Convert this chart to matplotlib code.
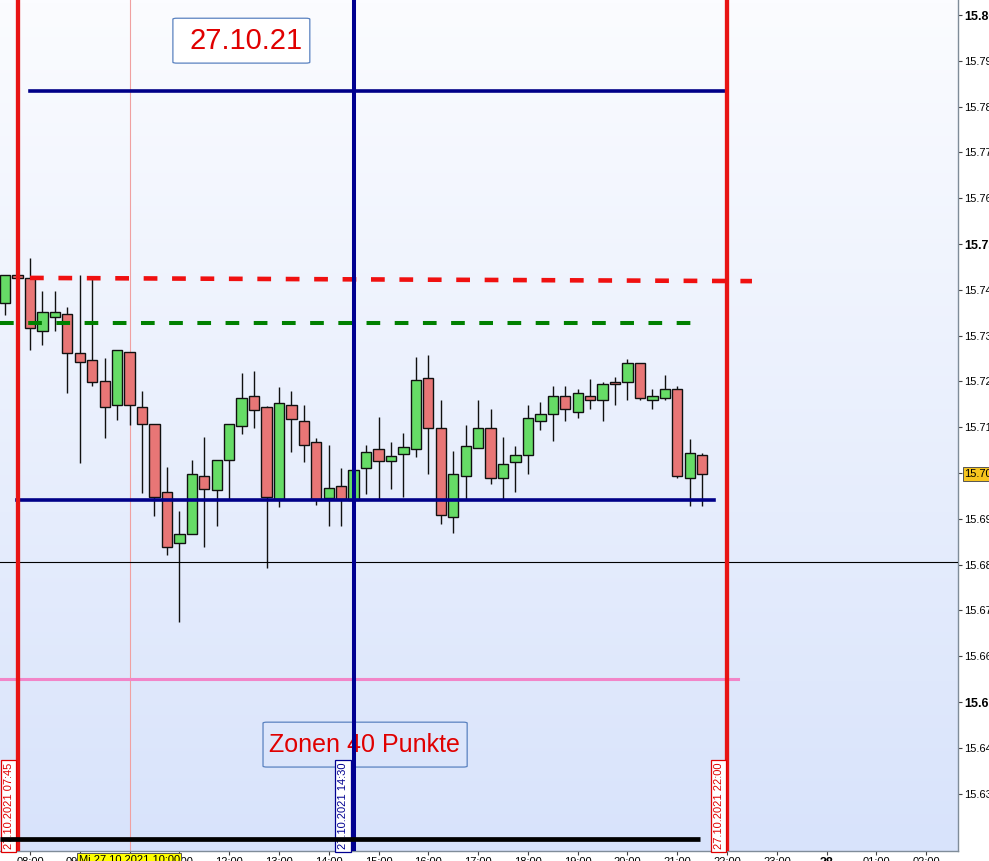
import numpy as np
import matplotlib
matplotlib.use("Agg")
import matplotlib.pyplot as plt
from matplotlib.colors import LinearSegmentedColormap
from matplotlib.patches import FancyBboxPatch
from matplotlib.transforms import blended_transform_factory

plt.rcParams['font.family'] = ['Liberation Sans', 'DejaVu Sans']

# 15 minute candles, 27.10.2021 from 07:30 on
start_hour = 7.5
step = 0.25
opens = [15.7371, 15.7432, 15.7426, 15.7310, 15.7341, 15.7347, 15.7262, 15.7247, 15.7201, 15.7148,
         15.7264, 15.7144, 15.7107, 15.6959, 15.6847, 15.6867, 15.6993, 15.6963, 15.7028, 15.7103,
         15.7168, 15.7144, 15.6943, 15.7148, 15.7114, 15.7068, 15.6945, 15.6972, 15.6941, 15.7011,
         15.7052, 15.7026, 15.7041, 15.7052, 15.7207, 15.7098, 15.6904, 15.6993, 15.7055, 15.7098,
         15.6989, 15.7024, 15.7039, 15.7114, 15.7129, 15.7168, 15.7133, 15.7168, 15.7159, 15.7199,
         15.7199, 15.7240, 15.7159, 15.7164, 15.7183, 15.6989, 15.7039]
highs = [15.7432, 15.7434, 15.7469, 15.7397, 15.7397, 15.7362, 15.7432, 15.7424, 15.7251, 15.7269,
         15.7264, 15.7179, 15.7107, 15.7013, 15.6917, 15.7028, 15.7079, 15.7028, 15.7107, 15.7218,
         15.7223, 15.7146, 15.7188, 15.7179, 15.7148, 15.7076, 15.7061, 15.7011, 15.7007, 15.7061,
         15.7122, 15.7068, 15.7087, 15.7253, 15.7258, 15.7159, 15.7048, 15.7105, 15.7159, 15.7140,
         15.7079, 15.7059, 15.7148, 15.7155, 15.7190, 15.7190, 15.7183, 15.7205, 15.7199, 15.7210,
         15.7249, 15.7240, 15.7183, 15.7214, 15.7190, 15.7074, 15.7044]
lows = [15.7345, 15.7424, 15.7269, 15.7279, 15.7310, 15.7175, 15.7022, 15.7190, 15.7076, 15.7116,
        15.7105, 15.6956, 15.6906, 15.6821, 15.6675, 15.6867, 15.6838, 15.6884, 15.6943, 15.7085,
        15.7098, 15.6793, 15.6926, 15.7046, 15.7024, 15.6930, 15.6884, 15.6884, 15.6897, 15.6954,
        15.6943, 15.6965, 15.6948, 15.7035, 15.6998, 15.6889, 15.6869, 15.6943, 15.7055, 15.6976,
        15.6943, 15.6959, 15.6998, 15.7094, 15.7070, 15.7114, 15.7120, 15.7140, 15.7114, 15.7148,
        15.7159, 15.7159, 15.7140, 15.7159, 15.6989, 15.6928, 15.6928]
closes = [15.7432, 15.7426, 15.7317, 15.7352, 15.7352, 15.7262, 15.7242, 15.7199, 15.7144, 15.7269,
          15.7148, 15.7107, 15.6948, 15.6838, 15.6867, 15.6998, 15.6965, 15.7028, 15.7107, 15.7164,
          15.7138, 15.6948, 15.7153, 15.7118, 15.7061, 15.6943, 15.6967, 15.6943, 15.7007, 15.7046,
          15.7026, 15.7037, 15.7057, 15.7203, 15.7098, 15.6908, 15.6998, 15.7059, 15.7098, 15.6989,
          15.7020, 15.7039, 15.7120, 15.7129, 15.7168, 15.7140, 15.7175, 15.7159, 15.7194, 15.7194,
          15.7240, 15.7164, 15.7168, 15.7183, 15.6993, 15.7044, 15.6998]

# drawn levels
zone_top = 15.7834
red_level = (15.7426, 15.7419)
green_level = 15.7328
zone_low = 15.6941
cross_level = 15.6806
pink_level = 15.6550
black_level = 15.6201
last_price = 15.6998

y_ticks = [15.63, 15.64, 15.65, 15.66, 15.67, 15.68, 15.69, 15.70, 15.71, 15.72,
           15.73, 15.74, 15.75, 15.76, 15.77, 15.78, 15.79, 15.80]
y_bold = [15.65, 15.75, 15.80]
x_hours = list(range(8, 27))
x_labels = ['08:00', '09:00', '10:00', '11:00', '12:00', '13:00', '14:00', '15:00', '16:00',
            '17:00', '18:00', '19:00', '20:00', '21:00', '22:00', '23:00', '28', '01:00', '02:00']

xmin, xmax = 7.3975, 26.638
ymin, ymax = 15.61747, 15.80328

fig = plt.figure(figsize=(9.89, 8.61), dpi=100)
ax = fig.add_axes([0, 10 / 861, 958 / 989, 851 / 861])
ax.set_xlim(xmin, xmax)
ax.set_ylim(ymin, ymax)

# background gradient
cmap = LinearSegmentedColormap.from_list('bg', ['#d8e3fb', '#fbfcff'])
grad = np.linspace(0, 1, 256).reshape(-1, 1)
ax.imshow(grad, extent=[xmin, xmax, ymin, ymax], origin='lower', aspect='auto',
          cmap=cmap, zorder=0)

# candles
times = [start_hour + step * i for i in range(len(opens))]
for t, o, h, l, c in zip(times, opens, highs, lows, closes):
    ax.vlines(t, l, h, color='#101010', lw=1, zorder=3)
    col = '#66dc66' if c >= o else '#e87676'
    ax.bar(t, max(abs(c - o), 0.00025), bottom=min(o, c), width=0.207, color=col,
           edgecolor='#101010', linewidth=1, zorder=4)

# horizontal levels
ax.plot([8.0, 22.0], [zone_top, zone_top], color='#000088', lw=2.6, zorder=5)
ax.plot([8.0, 22.5], red_level, color='#f01010', lw=3.3, ls=(0, (3.0, 3.2)), zorder=5)
ax.plot([xmin, 21.52], [green_level, green_level], color='#008000', lw=2.9,
        ls=(0, (3.4, 3.6)), zorder=5)
ax.plot([7.74, 21.74], [zone_low, zone_low], color='#000088', lw=2.6, zorder=5)
ax.axhline(cross_level, color='black', lw=0.8, zorder=5)
ax.plot([xmin, 22.22], [pink_level, pink_level], color='#f285c8', lw=2.2, zorder=5)

# vertical lines
ax.axvline(10.0, color='#f0a0a0', lw=0.8, zorder=2)
ax.axvline(7.75, color='#e81414', lw=3.1, zorder=6)
ax.axvline(14.5, color='#000090', lw=2.9, zorder=6)
ax.axvline(22.0, color='#e81414', lw=3.1, zorder=6)

# vertical date labels
vlabels = [(7.57, '27.10.2021 07:45', '#e00000'),
           (14.29, '27.10.2021 14:30', '#000090'),
           (21.83, '27.10.2021 22:00', '#e00000')]
for xv, txt, col in vlabels:
    ax.text(xv, ymin + 0.0004, txt, rotation=90, ha='center', va='bottom', fontsize=8,
            color=col, zorder=7,
            bbox=dict(boxstyle='square,pad=0.25', fc='white', ec=col, lw=0.9))

ax.plot([xmin, 21.46], [black_level, black_level], color='black', lw=3.4, zorder=8,
        solid_capstyle='butt')

# text boxes
box1 = FancyBboxPatch((10.87, 15.7895), 13.62 - 10.87, 15.7993 - 15.7895,
                      boxstyle='round,pad=0,rounding_size=0.08', mutation_aspect=0.0025,
                      fc='white', ec='#5a82c0', lw=0.9, zorder=6)
ax.add_patch(box1)
ax.text(12.34, 15.7943, '27.10.21', color='#e00000', fontsize=21, ha='center',
        va='center', zorder=7)

box2 = FancyBboxPatch((12.68, 15.6358), 16.78 - 12.68, 15.6456 - 15.6358,
                      boxstyle='round,pad=0,rounding_size=0.08', mutation_aspect=0.0025,
                      fc='none', ec='#5a82c0', lw=0.9, zorder=5)
ax.add_patch(box2)
ax.text(14.72, 15.6406, 'Zonen 40 Punkte', color='#e00000', fontsize=18, ha='center',
        va='center', zorder=5)

# axes styling
for s in ['top', 'left']:
    ax.spines[s].set_visible(False)
for s in ['right', 'bottom']:
    ax.spines[s].set_color('#7f8c99')
    ax.spines[s].set_linewidth(1)

ax.yaxis.tick_right()
ax.set_yticks(y_ticks)
ax.set_yticklabels(['%.3f' % v for v in y_ticks])
ax.tick_params(axis='y', length=3, width=0.8, color='#404040', pad=1.5, labelsize=8)
for lab, v in zip(ax.get_yticklabels(), y_ticks):
    if v in y_bold:
        lab.set_fontweight('bold')
        lab.set_fontsize(9)

ax.set_xticks(x_hours)
ax.set_xticklabels(x_labels)
ax.tick_params(axis='x', length=3, width=0.8, color='#404040', pad=1.5, labelsize=8)
for lab, s in zip(ax.get_xticklabels(), x_labels):
    if s == '28':
        lab.set_fontweight('bold')
        lab.set_fontsize(9)

# current price label on the right axis
trans_y = blended_transform_factory(ax.transAxes, ax.transData)
ax.text(1.0065, last_price, '15.700', transform=trans_y, ha='left', va='center',
        fontsize=8, zorder=10, clip_on=False,
        bbox=dict(boxstyle='square,pad=0.15', fc='#f7c51e', ec='#555555', lw=0.7))

# crosshair time label at the bottom
trans_x = blended_transform_factory(ax.transData, ax.transAxes)
ax.text(9.99, -0.0045, 'Mi 27.10.2021 10:00', transform=trans_x, ha='center', va='top',
        fontsize=8, zorder=10, clip_on=False,
        bbox=dict(boxstyle='square,pad=0.15', fc='#ffff00', ec='#555555', lw=0.7))

fig.savefig('out.png', dpi=100)
